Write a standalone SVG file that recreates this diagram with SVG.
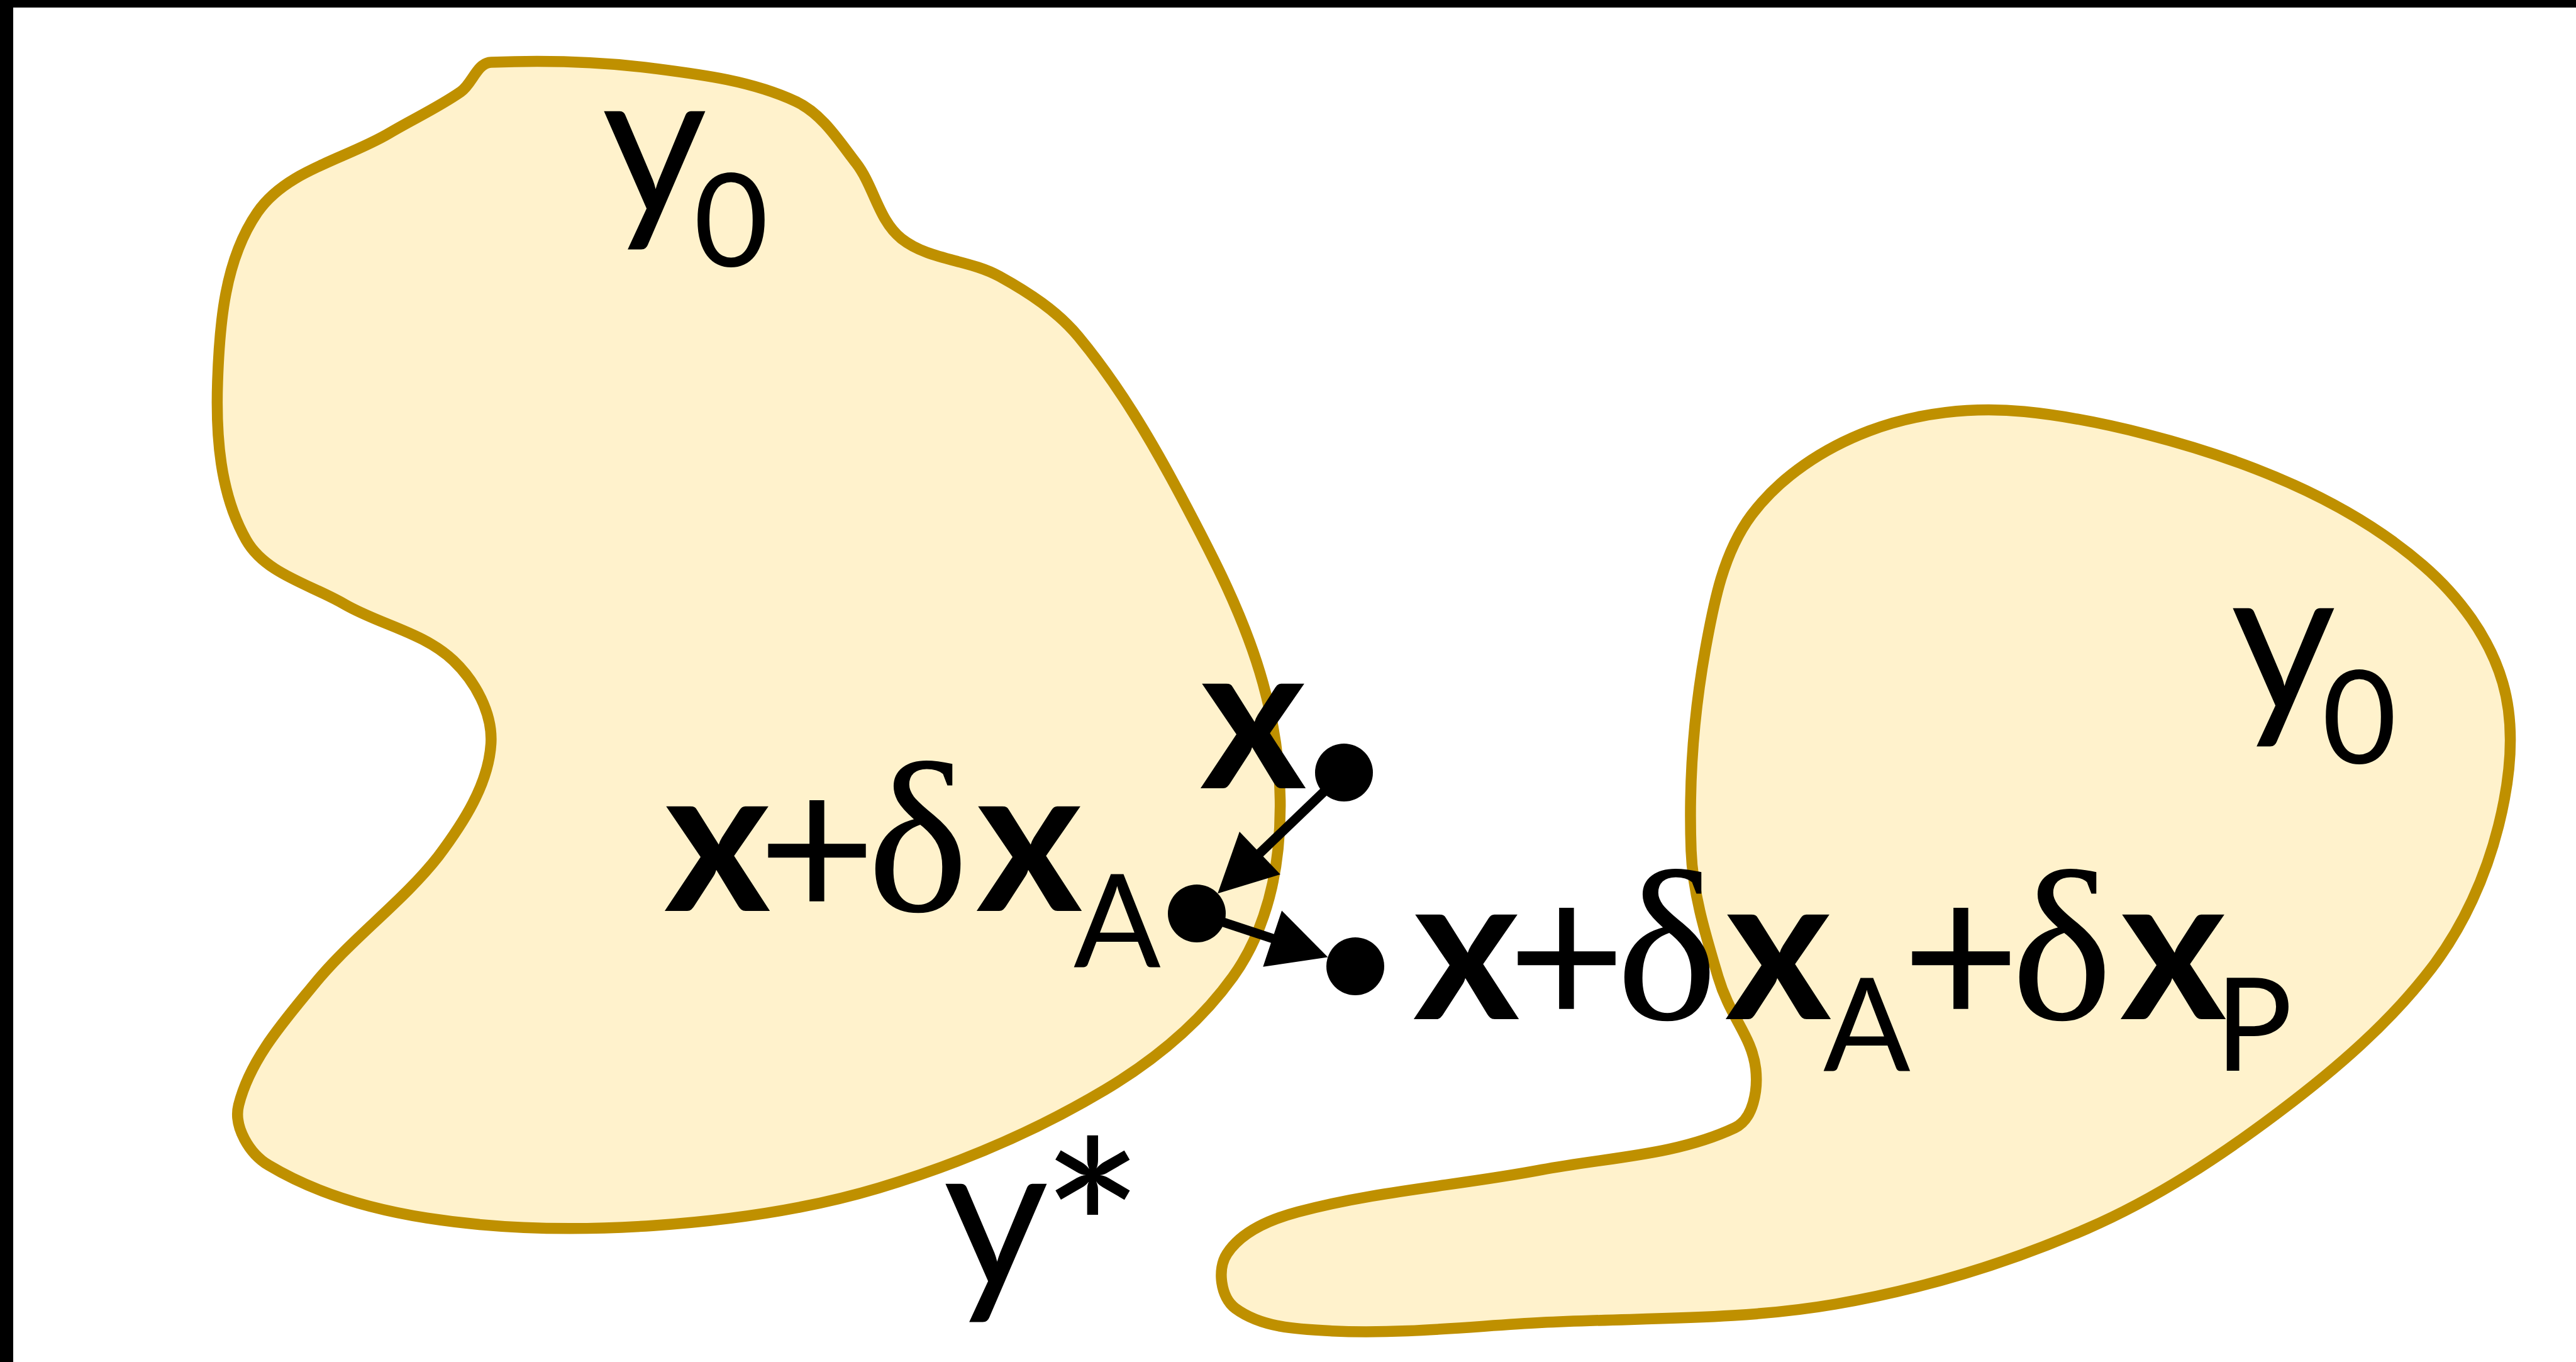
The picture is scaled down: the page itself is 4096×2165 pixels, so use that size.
<svg xmlns="http://www.w3.org/2000/svg" width="4096" height="2165" viewBox="0 0 4096 2165">
<style>
.frame{fill:#000}
.region{fill:#FFF2CC;stroke:#BF9000;stroke-width:17.5;stroke-linejoin:round;vector-effect:non-scaling-stroke}
.dot{fill:#000}
.conn{stroke:#000;stroke-width:15;fill:none}
.head{fill:#000}
.t{font-family:Lato,"Open Sans","Liberation Sans",sans-serif;font-size:324px;fill:#000}
.b{font-weight:bold}
.s{font-size:205px}
.ast{font-size:392px}
.d{font-family:"Liberation Serif","DejaVu Serif",serif;font-size:342px}
</style>
<rect width="4096" height="2165" fill="#fff"/>
<rect class="frame" x="0" y="0" width="4096" height="12"/>
<rect class="frame" x="0" y="0" width="21" height="2165"/>

<g id="region-left" transform="translate(319.6,79.9) scale(1.1976)">
<path class="region" d="M385,16 C456.6,13.1 528.9,14.9 600,24 C664.5,32.3 731.1,40.5 790,68 C824.6,84.2 846.7,119.7 870,150 C893.7,180.8 899.5,225.9 930,250 C966.4,278.8 1019.4,277.5 1060,300 C1098.5,321.3 1136.9,346.1 1165,380 C1218.1,444.1 1260.9,516.5 1300,590 C1342.8,670.4 1385.7,752.3 1410,840 C1429.7,911 1437.5,986.8 1430,1060 C1423.9,1119.8 1405.1,1181.2 1370,1230 C1325.8,1291.4 1264.9,1341.3 1200,1380 C1106.4,1435.8 1004.4,1478.7 900,1510 C802.9,1539.1 701.2,1553.2 600,1560 C500.2,1566.7 398.8,1565.5 300,1550 C227.1,1538.6 153.3,1518 90,1480 C64.4,1464.7 42.8,1428.9 50,1400 C65.3,1339 110.2,1288.7 150,1240 C200.7,1178 268,1130 315,1070 C348,1026 381.8,974.4 385,920 C387.3,879.8 364.2,837.7 335,810 C295.6,772.6 237,762.4 190,735 C145.2,708.9 85.6,695 60,650 C24.8,588.2 19.6,511 22,440 C24.6,363 31.2,278.5 75,215 C113.6,159 191.5,144.7 250,110 C281.5,91.3 315,75.9 345,55 C360.3,44.4 366.4,16.7 385,16 Z"/>
</g>
<g id="region-right" transform="translate(1917.6,71.1) scale(1.3346)">
<path class="region" d="M975,437 C1068.9,446.2 1178.3,477.3 1250,505 C1321.7,532.7 1391.8,569.7 1450,620 C1492.7,656.9 1529.3,705.9 1545,760 C1560.8,814.4 1553.8,875 1540,930 C1524.8,990.7 1498,1050.3 1460,1100 C1409.9,1165.5 1345.8,1220.3 1280,1270 C1208.3,1324.1 1132.3,1374.2 1050,1410 C954.3,1451.6 852.8,1482.3 750,1500 C634.9,1519.9 516.8,1515.8 400,1522 C316.7,1526.4 233.3,1535.9 150,1532 C110.6,1530.1 66.7,1528.4 35,1505 C17.4,1492 13,1458.4 25,1440 C43,1412.4 78.2,1398.5 110,1390 C204.8,1364.7 303.7,1358.5 400,1340 C477.1,1325.2 559,1323.4 630,1290 C652.4,1279.4 657.7,1244.7 655,1220 C650.6,1180.6 624.5,1159 610,1110 C595.5,1061 579.9,1011 578,960 C575,879.9 580.8,798.9 595,720 C605,664.5 616.2,605.1 650,560 C684.4,514.2 736.4,480.3 790,460 C848.1,438 913.2,431 975,437 Z"/>
</g>

<g id="label-y0-left">
<text class="t"><tspan x="957" y="341">y</tspan><tspan class="s" x="1103" y="423">0</tspan></text>
</g>
<g id="label-y0-right">
<text class="t"><tspan x="3547" y="1131">y</tspan><tspan class="s" x="3692" y="1213">0</tspan></text>
</g>
<g id="label-ystar">
<text class="t"><tspan x="1500" y="2046">y</tspan><tspan class="ast" x="1654" y="2100">*</tspan></text>
</g>

<g id="connectors">
<line class="conn" x1="2137" y1="1228" x2="1995" y2="1364"/>
<polygon class="head" points="1936.2,1420.2 2035.9,1389.9 1970.9,1321.9"/>
<line class="conn" x1="1903" y1="1452" x2="2033" y2="1495"/>
<polygon class="head" points="2111.4,1521.5 2008.3,1536.7 2038.1,1447.5"/>
</g>

<g id="node-x">
<circle class="dot" cx="2137" cy="1228" r="46"/>
<text class="t b" x="1908" y="1253">x</text>
</g>
<g id="node-x-dxA">
<circle class="dot" cx="1903" cy="1452" r="46"/>
<text class="t"><tspan class="b" x="1056" y="1448">x</tspan><tspan x="1205" y="1461">+</tspan><tspan class="d" x="1379" y="1448">δ</tspan><tspan class="b" x="1552" y="1448">x</tspan><tspan class="s" x="1707" y="1537">A</tspan></text>
</g>
<g id="node-x-dxA-dxP">
<circle class="dot" cx="2155" cy="1536" r="46"/>
<text class="t"><tspan class="b" x="2247" y="1620">x</tspan><tspan x="2397" y="1632">+</tspan><tspan class="d" x="2570" y="1620">δ</tspan><tspan class="b" x="2743" y="1620">x</tspan><tspan class="s" x="2899" y="1702">A</tspan><tspan x="3024" y="1632">+</tspan><tspan class="d" x="3198" y="1620">δ</tspan><tspan class="b" x="3371" y="1620">x</tspan><tspan class="s" x="3522" y="1702">P</tspan></text>
</g>
</svg>
